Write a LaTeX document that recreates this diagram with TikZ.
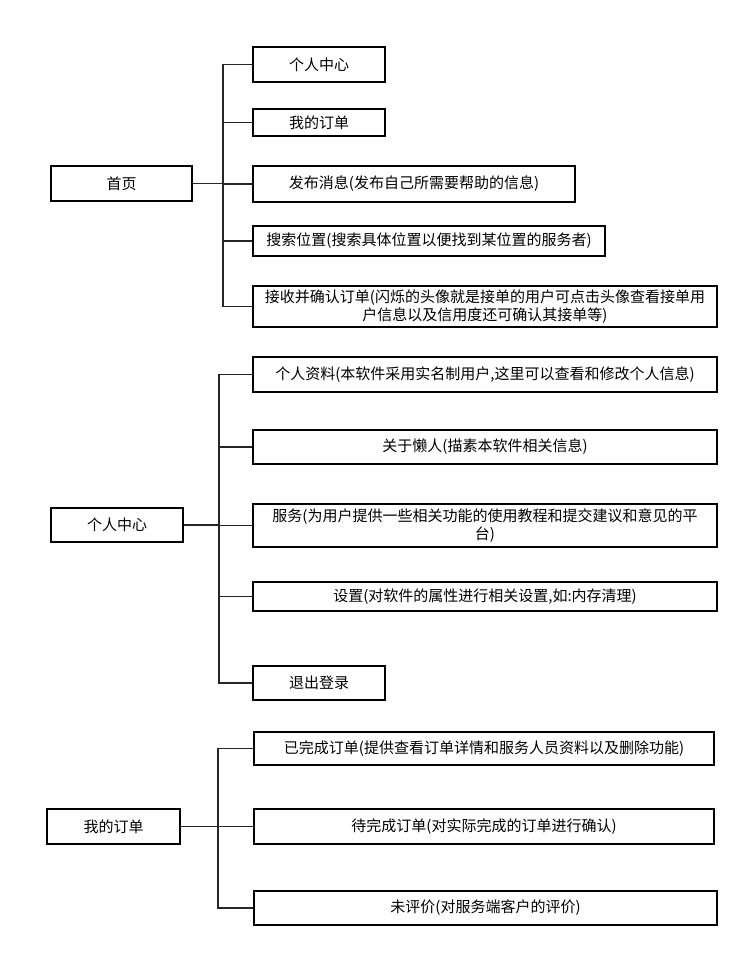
\documentclass[tikz,border=0pt]{standalone}
\usepackage{fontspec}
\newfontfamily\cjk{Noto Sans CJK SC}
\begin{document}
\begin{tikzpicture}[x=1pt,y=-1pt,
  box/.style={draw=black, line width=1.5pt, align=center, inner sep=1pt,
    font=\cjk\fontsize{15}{18}\selectfont},
  link/.style={draw=black!85, line width=1.7pt}]
\useasboundingbox (0,0) rectangle (749,957);

% 首页
\node[box, minimum width=141, minimum height=35] (home) at (121.5,183.5) {首页};
\node[box, minimum width=132, minimum height=35] (h1) at (319,64.5) {个人中心};
\node[box, minimum width=132, minimum height=27] (h2) at (319,122.5) {我的订单};
\node[box, minimum width=322, minimum height=36] (h3) at (414,184) {发布消息(发布自己所需要帮助的信息)};
\node[box, minimum width=352, minimum height=30] (h4) at (429,241) {搜索位置(搜索具体位置以便找到某位置的服务者)};
\node[box, minimum width=464, minimum height=41] (h5) at (485,306.5) {接收并确认订单(闪烁的头像就是接单的用户可点击头像查看接单用\\户信息以及信用度还可确认其接单等)};
\foreach \c in {h1,h2,h3,h4,h5}
  \path[link] (home.east) -- ++(30,0) |- (\c.west);

% 个人中心
\node[box, minimum width=132, minimum height=34] (me) at (117,525) {个人中心};
\node[box, minimum width=464, minimum height=35] (m1) at (485,374.5) {个人资料(本软件采用实名制用户,这里可以查看和修改个人信息)};
\node[box, minimum width=464, minimum height=34] (m2) at (485,447) {关于懒人(描素本软件相关信息)};
\node[box, minimum width=464, minimum height=43] (m3) at (485,525.5) {服务(为用户提供一些相关功能的使用教程和提交建议和意见的平\\台)};
\node[box, minimum width=464, minimum height=29] (m4) at (485,596.5) {设置(对软件的属性进行相关设置,如:内存清理)};
\node[box, minimum width=132, minimum height=34] (m5) at (319,683) {退出登录};
\foreach \c in {m1,m2,m3,m4,m5}
  \path[link] (me.east) -- ++(35,0) |- (\c.west);

% 我的订单
\node[box, minimum width=133, minimum height=35] (ord) at (113.5,826.5) {我的订单};
\node[box, minimum width=460, minimum height=33] (o1) at (484,748.5) {已完成订单(提供查看订单详情和服务人员资料以及删除功能)};
\node[box, minimum width=460, minimum height=35] (o2) at (484,826.5) {待完成订单(对实际完成的订单进行确认)};
\node[box, minimum width=463, minimum height=34] (o3) at (485.5,908) {未评价(对服务端客户的评价)};
\foreach \c in {o1,o2,o3}
  \path[link] (ord.east) -- ++(37,0) |- (\c.west);

\end{tikzpicture}
\end{document}
